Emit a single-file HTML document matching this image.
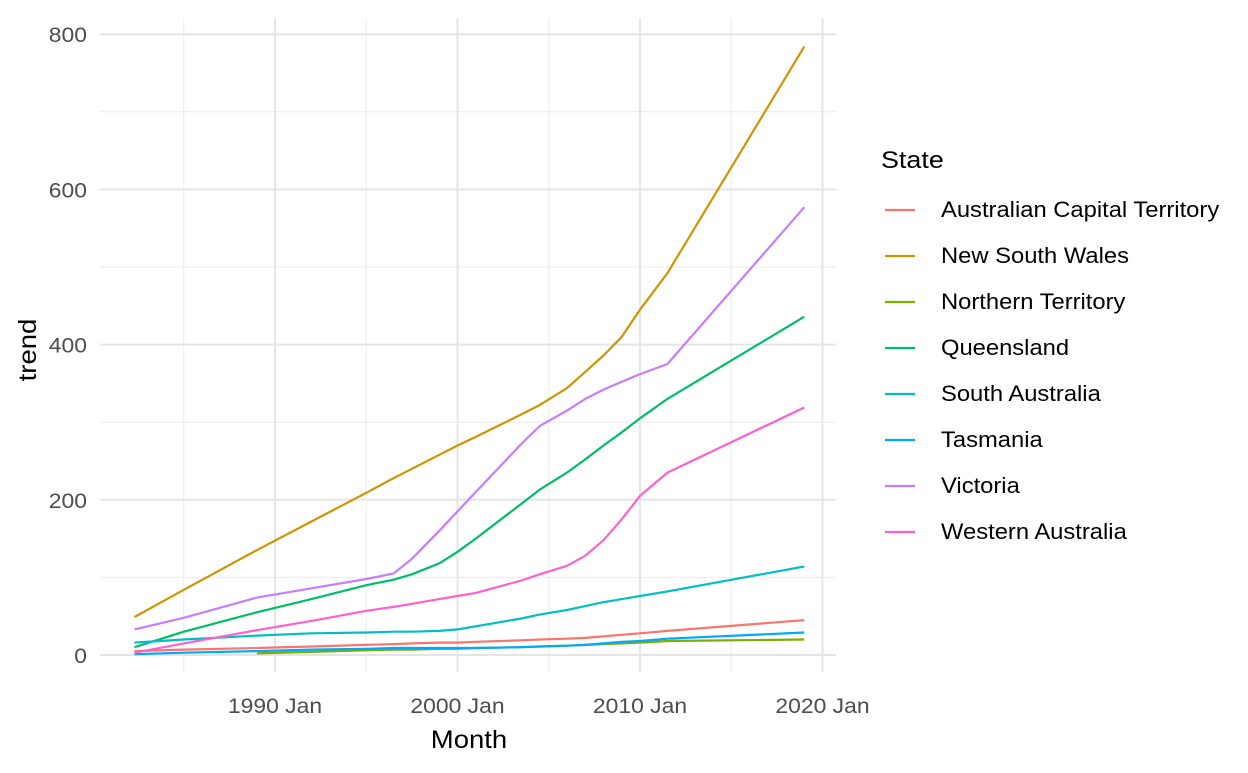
<!DOCTYPE html>
<html><head><meta charset="utf-8"><style>
body{margin:0;background:#fff;font-family:"Liberation Sans",sans-serif}
</style></head><body>
<svg id="c" width="1248" height="768" xmlns="http://www.w3.org/2000/svg"></svg>
<script>
const years=[1982.3,1985,1989,1992,1995,1996.5,1997.5,1999,2000,2001,2003.5,2004.5,2006,2007,2008,2009,2010,2011.5,2019];
const states=["Australian Capital Territory","New South Wales","Northern Territory","Queensland","South Australia","Tasmania","Victoria","Western Australia"];
const colors=["#F8766D","#CD9600","#7CAE00","#00BE67","#00BFC4","#00A9FF","#C77CFF","#FF61CC"];
const actVals=[5,7,9,11,13,14,15,16,16,17,19,20,21,22,24,26,28,31,45];
const nswVals=[49,84,135,172,209,228,240,258,270,281,310,322,344,365,386,410,445,492,784];
const ntVals=[null,null,2,4,6,7,7,8,8,9,10,11,12,13,14,15,16,18,20];
const qldVals=[10,30,55,72,90,97,104,118,133,150,195,213,235,252,270,287,305,330,436];
const saVals=[16,20,25,28,29,30,30,31,33,37,47,52,58,63,68,72,76,82,114];
const tasVals=[1,3,5,7,8,9,9,9,9,9,10,11,12,13,15,17,18,21,29];
const vicVals=[33,48,74,86,98,105,124,160,185,210,272,295,315,330,342,352,362,375,577];
const waVals=[3,15,32,44,57,62,66,72,76,80,96,104,115,128,148,175,205,235,319];
const seriesVals=[actVals,nswVals,ntVals,qldVals,saVals,tasVals,vicVals,waVals];
const yTicks=[0,200,400,600,800];
const xTicks=[1990,2000,2010,2020];
const xTickLabels=["1990 Jan","2000 Jan","2010 Jan","2020 Jan"];
const X=yr=>275+(yr-1990)*18.25;
const Y=v=>655-v*0.776;
const svg=document.getElementById('c');
const NS="http://www.w3.org/2000/svg";
function mk(t,a,p){const e=document.createElementNS(NS,t);for(const k in a)e.setAttribute(k,a[k]);(p||svg).appendChild(e);return e;}
function stretch(t,k){const w=t.getComputedTextLength();if(w>0){t.setAttribute('textLength',(w*k).toFixed(1));t.setAttribute('lengthAdjust','spacingAndGlyphs');}}
[0,1,2,3].forEach(i=>{const yr=1985+i*10;const l=mk('line',{x1:X(yr),x2:X(yr),y1:18,y2:672,stroke:'#ebebeb','stroke-width':1});

});
yTicks.slice(0,4).forEach(v=>{const l=mk('line',{x1:100,x2:836,y1:Y(v+100),y2:Y(v+100),stroke:'#ebebeb','stroke-width':1});

});
xTicks.forEach((yr,i)=>{const l=mk('line',{x1:X(yr),x2:X(yr),y1:18,y2:672,stroke:'#e5e5e5','stroke-width':2});


const t=mk('text',{x:X(yr),y:713,'text-anchor':'middle','font-size':21,fill:'#4d4d4d'});t.textContent=xTickLabels[i];


stretch(t,1.09);});
yTicks.forEach(v=>{const l=mk('line',{x1:100,x2:836,y1:Y(v),y2:Y(v),stroke:'#e5e5e5','stroke-width':2});


const t=mk('text',{x:87,y:Y(v)+8,'text-anchor':'end','font-size':21,fill:'#4d4d4d'});t.textContent=v;


stretch(t,1.09);});
seriesVals.forEach((vals,si)=>{let d='';vals.forEach((v,i)=>{if(v==null)return;d+=(d?'L':'M')+X(years[i]).toFixed(1)+','+Y(v).toFixed(1);});
const p=mk('path',{d:d,fill:'none',stroke:colors[si],'stroke-width':2.2,'stroke-linejoin':'round'});


const ly=210+si*46;
const ll=mk('line',{x1:885,x2:915,y1:ly,y2:ly,stroke:colors[si],'stroke-width':2.2});


const lt=mk('text',{x:941,y:ly+7,'font-size':22,fill:'#000'});lt.textContent=states[si];


stretch(lt,1.08);});
const lgt=mk('text',{x:881,y:168,'font-size':24,fill:'#000'});lgt.textContent='State';


stretch(lgt,1.12);
const xt=mk('text',{x:469,y:748,'text-anchor':'middle','font-size':25,fill:'#000'});xt.textContent='Month';


stretch(xt,1.1);
const yt=mk('text',{x:36,y:350,'text-anchor':'middle','font-size':25,fill:'#000',transform:'rotate(-90 36 350)'});yt.textContent='trend';


stretch(yt,1.1);
</script>
</body></html>
